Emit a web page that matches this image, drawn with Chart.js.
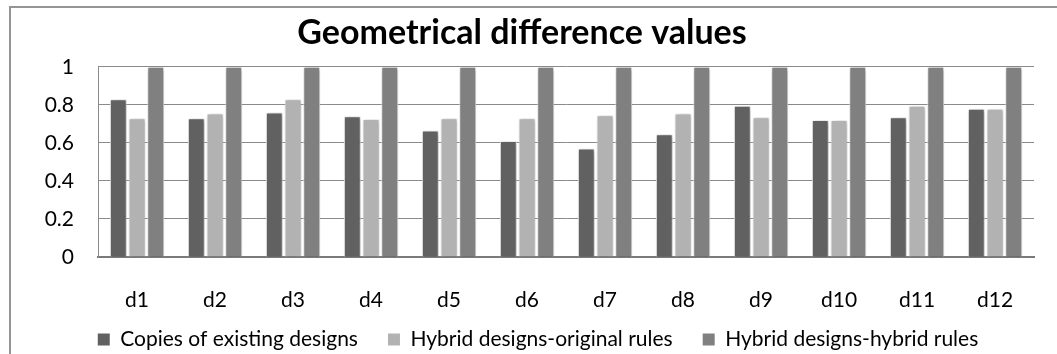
<!DOCTYPE html>
<html>
<head>
<meta charset="utf-8">
<script src="https://cdn.jsdelivr.net/npm/chart.js@4"></script>
<style>
  html, body { margin: 0; padding: 0; background: #fff; }
  #wrap { width: 1057px; height: 354px; }
</style>
</head>
<body>
<div id="wrap"><canvas id="diffChart" width="1057" height="354"></canvas></div>
<script>
"use strict";

const categories = ["d1", "d2", "d3", "d4", "d5", "d6", "d7", "d8", "d9", "d10", "d11", "d12"];
const copiesExisting = [0.83, 0.73, 0.76, 0.74, 0.665, 0.61, 0.57, 0.645, 0.795, 0.72, 0.735, 0.78];
const hybridOriginal = [0.73, 0.755, 0.83, 0.725, 0.73, 0.73, 0.745, 0.755, 0.735, 0.72, 0.795, 0.78];
const hybridHybrid = [1, 1, 1, 1, 1, 1, 1, 1, 1, 1, 1, 1];
const seriesNames = ["Copies of existing designs", "Hybrid designs-original rules", "Hybrid designs-hybrid rules"];
const yTicks = [0, 0.2, 0.4, 0.6, 0.8, 1];

const FONT = "Lato, 'Open Sans', sans-serif";

// frame edges (only the top and left ones are inside the canvas)
const frame = {
  id: "frame",
  beforeDraw(chart) {
    const ctx = chart.ctx;
    ctx.save();
    ctx.strokeStyle = "#959595";
    ctx.lineWidth = 2;
    ctx.beginPath();
    ctx.moveTo(10, 354);
    ctx.lineTo(10, 7);
    ctx.lineTo(1057, 7);
    ctx.stroke();
    ctx.restore();
  }
};

// soft shadow behind the bars
const barShadow = {
  id: "barShadow",
  beforeDatasetsDraw(chart) {
    const ctx = chart.ctx;
    ctx.save();
    ctx.shadowColor = "rgba(0,0,0,0.35)";
    ctx.shadowBlur = 4;
    ctx.shadowOffsetX = 1;
    ctx.shadowOffsetY = 1;
  },
  afterDatasetsDraw(chart) {
    chart.ctx.restore();
  }
};

// the legend's item padding also adds height; pull the row back up
// and slide it slightly to the right
const legendShift = {
  id: "legendShift",
  afterLayout(chart) {
    const lg = chart.legend;
    lg.left += 16;
    lg.right += 16;
    lg.top -= 16;
    lg.bottom -= 16;
  }
};

function makeSet(label, data, color) {
  return {
    label: label,
    data: data,
    backgroundColor: color,
    borderColor: "#ffffff",
    borderWidth: 1,
    categoryPercentage: 0.72,
    barPercentage: 0.9
  };
}

new Chart(document.getElementById("diffChart"), {
  type: "bar",
  data: {
    labels: categories,
    datasets: [
      makeSet(seriesNames[0], copiesExisting, "#616161"),
      makeSet(seriesNames[1], hybridOriginal, "#b2b2b2"),
      makeSet(seriesNames[2], hybridHybrid, "#808080")
    ]
  },
  options: {
    responsive: false,
    animation: false,
    layout: { padding: { left: 10, right: 23, top: 6, bottom: -22 } },
    plugins: {
      title: {
        display: true,
        text: "Geometrical difference values",
        color: "#000",
        font: { family: FONT, size: 34, weight: "bold" },
        padding: { top: 7, bottom: 13 }
      },
      legend: {
        position: "bottom",
        labels: {
          color: "#000",
          font: { family: FONT, size: 21 },
          boxWidth: 12,
          boxHeight: 12,
          padding: 30,
          generateLabels(chart) {
            return chart.data.datasets.map((ds, i) => ({
              text: ds.label,
              fillStyle: ds.backgroundColor,
              strokeStyle: ds.backgroundColor,
              lineWidth: 0,
              datasetIndex: i
            }));
          }
        }
      },
      tooltip: { enabled: false }
    },
    scales: {
      x: {
        grid: { display: false, drawTicks: false },
        border: { display: true, color: "#7a7a7a", width: 2 },
        ticks: { color: "#000", font: { family: FONT, size: 21 }, padding: 31 },
        afterFit(scale) { scale.height = 58; }
      },
      y: {
        min: 0,
        max: 1,
        afterBuildTicks(scale) { scale.ticks = yTicks.map(v => ({ value: v })); },
        grid: { color: "#8a8a8a", drawTicks: false },
        border: { display: true, color: "#8a8a8a" },
        ticks: {
          color: "#000",
          font: { family: FONT, size: 21 },
          padding: 24,
          callback: v => String(v)
        },
        afterFit(scale) { scale.width = 88; }
      }
    }
  },
  plugins: [frame, barShadow, legendShift]
});
</script>
</body>
</html>
